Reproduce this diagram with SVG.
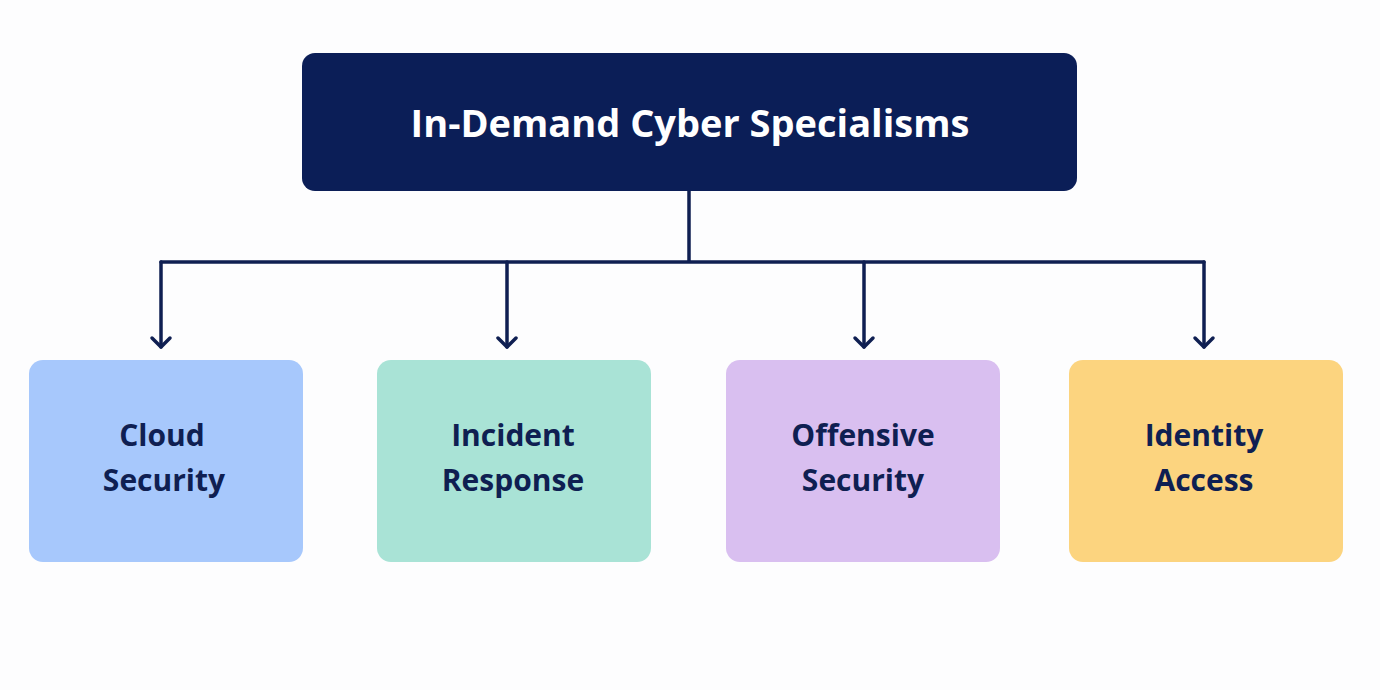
<svg xmlns="http://www.w3.org/2000/svg" width="1380" height="690" viewBox="0 0 1380 690">
<defs>
<style>
.t{font-family:"Open Sans","Liberation Sans",sans-serif;font-weight:700;text-anchor:middle;fill:#0f1f52;font-size:30px}
.c{stroke:#0f1f52;stroke-width:3.5;fill:none;stroke-linecap:round;stroke-linejoin:round}
</style>
<marker id="a" viewBox="0 0 20 24" refX="12" refY="12" markerWidth="20" markerHeight="24" markerUnits="userSpaceOnUse" orient="auto">
<path d="M3 3 L12 12 L3 21" fill="none" stroke="#0f1f52" stroke-width="3.5" stroke-linecap="round" stroke-linejoin="round"/>
</marker>
</defs>
<rect width="1380" height="690" fill="#fdfdfe"/>
<g id="connectors" class="c">
<path d="M689 191 V262 M161 262 H1204"/>
<path d="M161 262 V347" marker-end="url(#a)"/>
<path d="M507 262 V347" marker-end="url(#a)"/>
<path d="M864 262 V347" marker-end="url(#a)"/>
<path d="M1204 262 V347" marker-end="url(#a)"/>
</g>
<g id="root">
<rect x="302" y="53" width="775" height="138" rx="13" fill="#0b1e57"/>
<text x="690" y="137" class="t" style="fill:#fff;font-size:38px">In-Demand Cyber Specialisms</text>
</g>
<g id="cloud">
<rect x="29" y="360" width="274" height="202" rx="14" fill="#a7c8fc"/>
<text x="162" y="446" class="t">Cloud</text><text x="164" y="491" class="t">Security</text>
</g>
<g id="incident">
<rect x="377" y="360" width="274" height="202" rx="14" fill="#a9e3d6"/>
<text x="513" y="446" class="t">Incident</text><text x="513" y="491" class="t">Response</text>
</g>
<g id="offensive">
<rect x="726" y="360" width="274" height="202" rx="14" fill="#d9bff0"/>
<text x="863" y="446" class="t">Offensive</text><text x="863" y="491" class="t">Security</text>
</g>
<g id="identity">
<rect x="1069" y="360" width="274" height="202" rx="14" fill="#fcd47f"/>
<text x="1204" y="446" class="t">Identity</text><text x="1204" y="491" class="t">Access</text>
</g>
</svg>
